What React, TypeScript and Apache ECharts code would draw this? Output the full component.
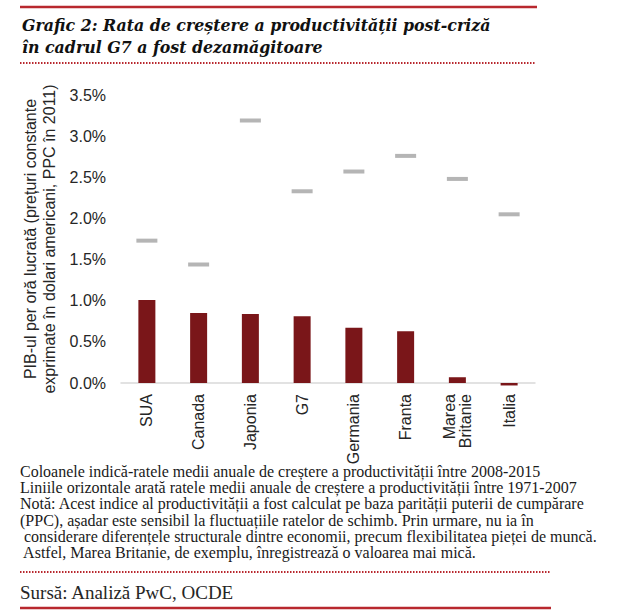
import React, { useEffect, useRef } from "react";
import * as echarts from "echarts";

const categories = ["SUA", "Canada", "Japonia", "G7", "Germania", "Franta", "Marea\nBritanie", "Italia"];
const growth2008to2015 = [1.01, 0.85, 0.84, 0.81, 0.67, 0.63, 0.07, -0.03];
const growth1971to2007 = [1.73, 1.44, 3.19, 2.33, 2.57, 2.76, 2.48, 2.05];
const yMin = 0;
const yMax = 3.5;
const yInterval = 0.5;

const titleLines = [
  "Grafic 2: Rata de creștere a productivității post-criză",
  "în cadrul G7 a fost dezamăgitoare",
];
const yAxisName = "PIB-ul per oră lucrată (prețuri constante\nexprimate în dolari americani, PPC în 2011)";
const noteLines = [
  "Coloanele indică-ratele medii anuale de creștere a productivității între 2008-2015",
  "Liniile orizontale arată ratele medii anuale de creștere a productivității între 1971-2007",
  "Notă: Acest indice al productivității a fost calculat pe baza parității puterii de cumpărare",
  "(PPC), așadar este sensibil la fluctuațiile ratelor de schimb. Prin urmare, nu ia în",
  " considerare diferențele structurale dintre economii, precum flexibilitatea pieței de muncă.",
  " Astfel, Marea Britanie, de exemplu, înregistrează o valoarea mai mică.",
];
const sourceText = "Sursă: Analiză PwC, OCDE";

const RED = "#b8282e";
const SANS = "'Liberation Sans', Arial, sans-serif";
const SERIF = "'Liberation Serif', 'Times New Roman', serif";
const TITLE_SERIF = "'DejaVu Serif', Georgia, serif";

export default function App() {
  const ref = useRef<HTMLDivElement>(null);
  useEffect(() => {
    if (!ref.current) return;
    const chart = echarts.init(ref.current, undefined, { renderer: "svg" });
    chart.setOption({
      animation: false,
      backgroundColor: "#ffffff",
      grid: { left: 121, right: 85, top: 95, bottom: 228, containLabel: false },
      xAxis: {
        type: "category",
        data: categories,
        axisLine: { show: true, lineStyle: { color: "#d9d9d9", width: 1.5 } },
        axisTick: { show: false },
        axisLabel: {
          rotate: 90,
          margin: 11,
          fontSize: 16,
          fontFamily: SANS,
          color: "#262626",
          lineHeight: 16,
        },
      },
      yAxis: {
        type: "value",
        min: yMin,
        max: yMax,
        interval: yInterval,
        name: yAxisName,
        nameLocation: "middle",
        nameRotate: 90,
        nameGap: 52,
        nameTextStyle: { fontSize: 16, fontFamily: SANS, color: "#262626", lineHeight: 19 },
        axisLine: { show: false },
        axisTick: { show: false },
        splitLine: { show: false },
        axisLabel: {
          margin: 15,
          fontSize: 16,
          fontFamily: SANS,
          color: "#262626",
          formatter: (v: number) => v.toFixed(1) + "%",
        },
      },
      series: [
        {
          type: "bar",
          data: growth2008to2015,
          barWidth: 17,
          clip: false,
          itemStyle: { color: "#7a1619" },
        },
        {
          type: "scatter",
          data: growth1971to2007,
          symbol: "rect",
          symbolSize: [21, 4],
          itemStyle: { color: "#a3a3a3" },
        },
      ],
      graphic: [
        { type: "line", shape: { x1: 20, y1: 7, x2: 537, y2: 7 }, style: { stroke: RED, lineWidth: 2.5 } },
        {
          type: "text",
          x: 22,
          y: 25,
          style: {
            text: titleLines[0],
            font: `italic bold 15.8px ${TITLE_SERIF}`,
            fill: "#111111",
            verticalAlign: "middle",
          },
        },
        {
          type: "text",
          x: 22,
          y: 47,
          style: {
            text: titleLines[1],
            font: `italic bold 15.8px ${TITLE_SERIF}`,
            fill: "#111111",
            verticalAlign: "middle",
          },
        },
        {
          type: "line",
          shape: { x1: 20, y1: 63, x2: 535, y2: 63 },
          style: { stroke: RED, lineWidth: 2, lineDash: [1.5, 1.5] },
        },
        {
          type: "text",
          x: 20,
          y: 463,
          style: {
            text: noteLines.join("\n"),
            font: `16px ${SERIF}`,
            lineHeight: 16.3,
            fill: "#1a1a1a",
            verticalAlign: "top",
          },
        },
        {
          type: "line",
          shape: { x1: 20, y1: 572, x2: 550, y2: 572 },
          style: { stroke: RED, lineWidth: 2, lineDash: [1.5, 1.5] },
        },
        {
          type: "text",
          x: 20,
          y: 592,
          style: {
            text: sourceText,
            font: `19px ${SERIF}`,
            fill: "#262626",
            verticalAlign: "middle",
          },
        },
        { type: "line", shape: { x1: 20, y1: 608, x2: 551, y2: 608 }, style: { stroke: RED, lineWidth: 2.5 } },
      ],
    });
    return () => chart.dispose();
  }, []);
  return (
    <div
      ref={ref}
      style={{ position: "absolute", left: 0, top: 0, width: 620, height: 611 }}
    />
  );
}
